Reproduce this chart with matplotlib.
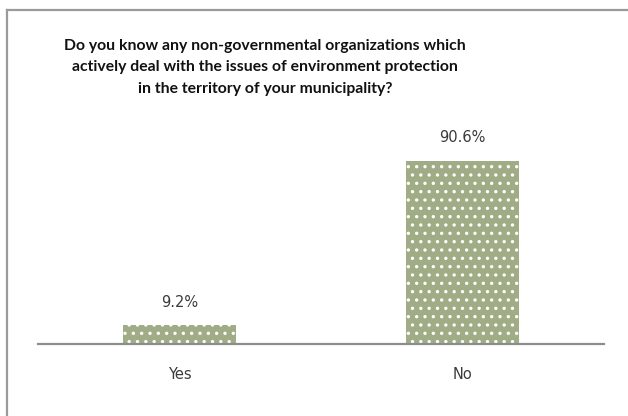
import matplotlib
matplotlib.use("Agg")
import matplotlib.pyplot as plt
from matplotlib.lines import Line2D

categories = ["Yes", "No"]
values = [9.2, 90.6]
value_labels = ["9.2%", "90.6%"]
title = ("Do you know any non-governmental organizations which\n"
         "actively deal with the issues of environment protection\n"
         "in the territory of your municipality?")

W, H = 628, 416
fig = plt.figure(figsize=(W / 100, H / 100), dpi=100)
fig.patch.set_facecolor("white")

plt.rcParams["font.family"] = ["DejaVu Sans"]
plt.rcParams["hatch.linewidth"] = 1.2

# chart frame (top and left edges)
fig.add_artist(Line2D([7 / W, 7 / W], [0, 1 - 10 / H], transform=fig.transFigure,
                      color="#9a9a9a", lw=1.6))
fig.add_artist(Line2D([7 / W, 1], [1 - 10 / H, 1 - 10 / H], transform=fig.transFigure,
                      color="#9a9a9a", lw=1.6))

ax_left, ax_right = 38 / W, 604 / W
ax_bottom = 1 - 343.7 / H
ax_top = 1 - (343.7 - 183 / 90.6 * 100) / H
ax = fig.add_axes([ax_left, ax_bottom, ax_right - ax_left, ax_top - ax_bottom])
ax.set_xlim(-0.5, 1.5)
ax.set_ylim(0, 100)

x = list(range(len(categories)))
bars = ax.bar(x, values, width=0.40, color="#a0ac85", edgecolor="white",
              hatch="..", linewidth=0)

for b, lab in zip(bars, value_labels):
    ax.annotate(lab, (b.get_x() + b.get_width() / 2, b.get_height()),
                xytext=(0, 11), textcoords="offset points", ha="center",
                va="bottom", fontsize=10.5, color="#3a3a3a")

for s in ["top", "right", "left"]:
    ax.spines[s].set_visible(False)
ax.spines["bottom"].set_color("#8c8c8c")
ax.spines["bottom"].set_linewidth(1.6)
ax.set_yticks([])
ax.set_xticks(x)
ax.set_xticklabels(categories, fontsize=10.5, color="#3a3a3a")
ax.tick_params(axis="x", length=0, pad=17)

fig.text(265 / W, 1 - 67.5 / H, title, ha="center", va="center",
         family=["Lato", "DejaVu Sans"], fontsize=11.3, fontweight="bold",
         color="#111111", linespacing=1.65)

fig.savefig("out.png", dpi=100, facecolor="white")
